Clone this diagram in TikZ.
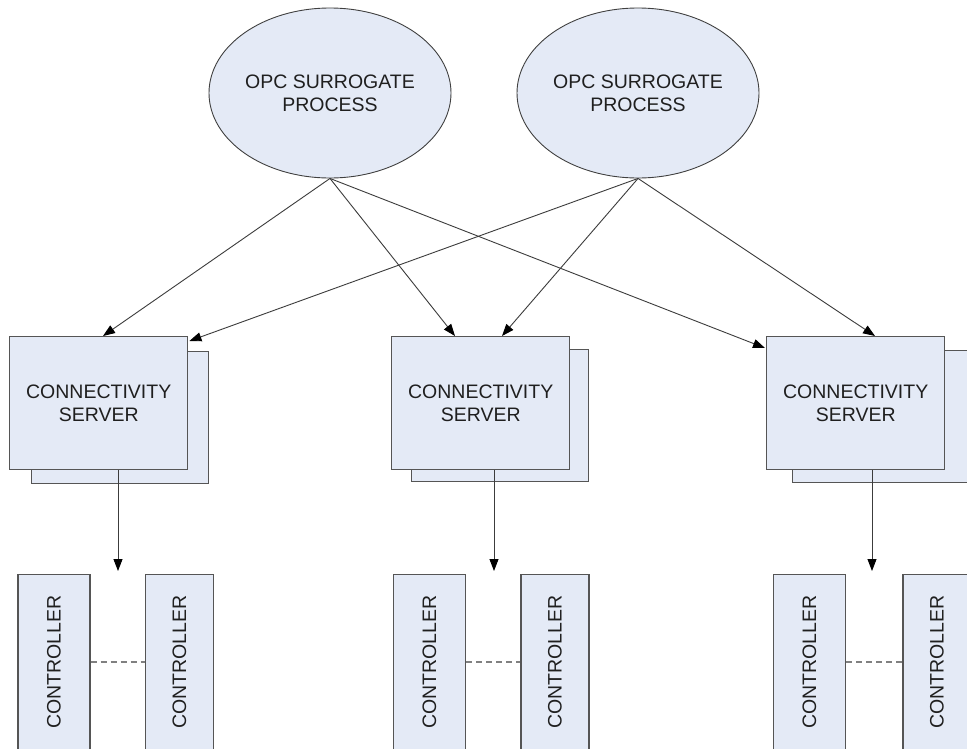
\documentclass[tikz,border=0pt]{standalone}
\usepackage{fontspec}
\setmainfont{Liberation Sans}
\usetikzlibrary{shapes.geometric,arrows.meta,calc}
\definecolor{boxfill}{RGB}{228,234,246}
\definecolor{edge}{RGB}{85,85,85}
\definecolor{wire}{RGB}{60,60,60}
\begin{document}
\begin{tikzpicture}[x=1pt,y=-1pt,
  lbl/.style={font=\fontsize{19.5}{23}\selectfont, text=black!88},
  proc/.style={ellipse, draw=black!75, line width=0.9pt, fill=boxfill,
    minimum width=242pt, minimum height=170pt, inner sep=0pt, lbl, align=center},
  server/.style={rectangle, draw=edge, line width=1.4pt, fill=boxfill,
    minimum width=178pt, minimum height=133pt, inner sep=0pt, anchor=north west,
    lbl, align=center},
  shadowbox/.style={rectangle, draw=edge, line width=1.4pt, fill=boxfill,
    minimum width=177pt, minimum height=132pt, inner sep=0pt, anchor=north west},
  ctrl/.style={rectangle, draw=edge, line width=1.4pt, fill=boxfill,
    minimum width=175pt, minimum height=72pt, inner sep=0pt, rotate=90, lbl},
  ctrlnarrow/.style={ctrl, minimum height=68pt},
  link/.style={draw=wire, line width=0.9pt, -{Triangle[length=12pt,width=9pt,black]}},
  bus/.style={draw=black!50, line width=1.3pt, dash pattern=on 6pt off 4pt}
]
\clip (0,0) rectangle (967,748);
\useasboundingbox (0,0) rectangle (967,748);
\fill[white] (0,0) rectangle (967,748);

% surrogate processes
\node[proc] (e1) at (330,93) {OPC SURROGATE\\PROCESS};
\node[proc] (e2) at (638,93) {OPC SURROGATE\\PROCESS};

% connectivity servers (with stacked copy behind)
\node[shadowbox] (s1b) at (31,351) {};
\node[shadowbox] (s2b) at (411,349) {};
\node[shadowbox] (s3b) at (792,350) {};
\node[server] (s1) at (9,336) {CONNECTIVITY\\SERVER};
\node[server] (s2) at (391,336) {CONNECTIVITY\\SERVER};
\node[server] (s3) at (766,336) {CONNECTIVITY\\SERVER};

% controllers
\node[ctrl] (c1a) at (54,662) {CONTROLLER};
\node[ctrlnarrow] (c1b) at (179.5,662) {CONTROLLER};
\node[ctrl] (c2a) at (429.5,662) {CONTROLLER};
\node[ctrlnarrow] (c2b) at (555,662) {CONTROLLER};
\node[ctrl] (c3a) at (809.5,662) {CONTROLLER};
\node[ctrlnarrow] (c3b) at (937,662) {CONTROLLER};

\draw[bus] (c1a) -- (c1b);
\draw[bus] (c2a) -- (c2b);
\draw[bus] (c3a) -- (c3b);

% entry points on the servers
\coordinate (s1p) at ($(s1.north west)+(94,0)$);
\coordinate (s1q) at ($(s1.north east)+(1,5)$);
\coordinate (s2p) at ($(s2.north west)+(64,0)$);
\coordinate (s2q) at ($(s2.north west)+(111,0)$);
\coordinate (s3p) at ($(s3.north west)+(-1,12)$);
\coordinate (s3q) at ($(s3.north west)+(109,0)$);

\draw[link] (e1.south) -- (s1p);
\draw[link] (e1.south) -- (s2p);
\draw[link] (e1.south) -- (s3p);
\draw[link] (e2.south) -- (s1q);
\draw[link] (e2.south) -- (s2q);
\draw[link] (e2.south) -- (s3q);

% server to controller groups
\coordinate (t1) at (118,571);
\coordinate (t2) at (494,571);
\coordinate (t3) at (872,571);
\draw[link] ($(s1.south west)+(109,0)$) -- (t1);
\draw[link] ($(s2.south west)+(103,0)$) -- (t2);
\draw[link] ($(s3.south west)+(106,0)$) -- (t3);
\end{tikzpicture}
\end{document}
